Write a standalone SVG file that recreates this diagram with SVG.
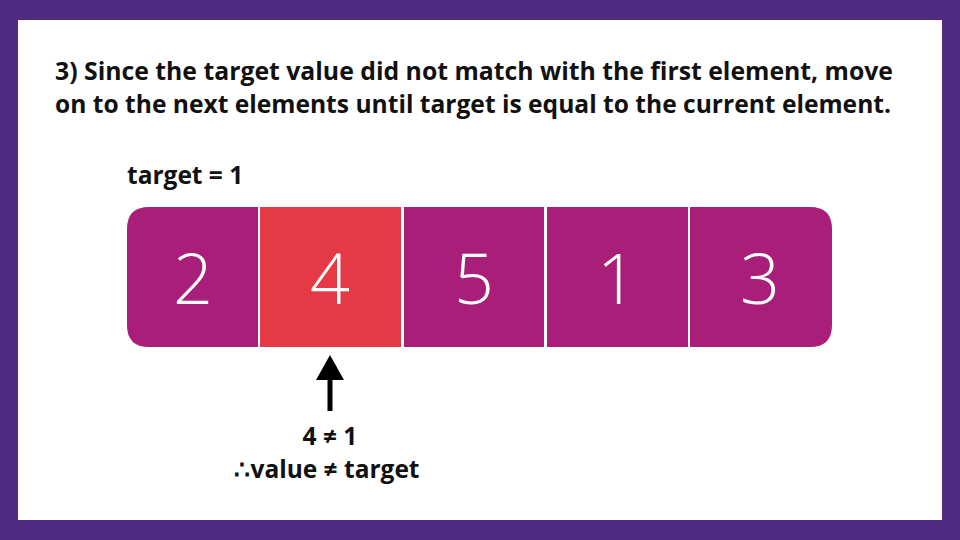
<svg xmlns="http://www.w3.org/2000/svg" width="960" height="540" viewBox="0 0 960 540">
<style>
.h{font-family:"Open Sans","Liberation Sans",sans-serif;font-weight:700;fill:#111;font-size:24.5px;}
.n{font-family:"Open Sans","Liberation Sans",sans-serif;font-weight:300;font-size:70px;fill:#fff;text-anchor:middle;}
.p{fill:#A81E78;}
.r{fill:#E63946;}
</style>
<rect x="0" y="0" width="960" height="540" fill="#512A82"/>
<rect x="18" y="20" width="924" height="500" fill="#fff"/>
<text class="h" x="55" y="80" textLength="838" lengthAdjust="spacingAndGlyphs">3) Since the target value did not match with the first element, move</text>
<text class="h" x="55" y="113" textLength="836" lengthAdjust="spacingAndGlyphs">on to the next elements until target is equal to the current element.</text>
<text class="h" x="127" y="184">target = 1</text>
<g id="cell0"><path class="p" d="M149,207 H258 V347 H149 Q127,347 127,325 V229 Q127,207 149,207 Z"/><text class="n" x="193" y="304">2</text></g>
<g id="cell1"><rect class="r" x="260" y="207" width="141" height="140"/><text class="n" x="330" y="304">4</text></g>
<g id="cell2"><rect class="p" x="404" y="207" width="140" height="140"/><text class="n" x="474" y="304">5</text></g>
<g id="cell3"><rect class="p" x="547" y="207" width="141" height="140"/><text class="n" x="617" y="304">1</text></g>
<g id="cell4"><path class="p" d="M690,207 H810 Q832,207 832,229 V325 Q832,347 810,347 H690 Z"/><text class="n" x="760" y="304">3</text></g>
<g id="connectors">
<line x1="330" y1="411" x2="330" y2="376" stroke="#000" stroke-width="5"/>
<polygon points="330,355 316,380 344,380" fill="#000"/>
</g>
<text class="h" x="330" y="445" text-anchor="middle">4 ≠ 1</text>
<text class="h" x="327" y="478" text-anchor="middle">∴value ≠ target</text>
</svg>
